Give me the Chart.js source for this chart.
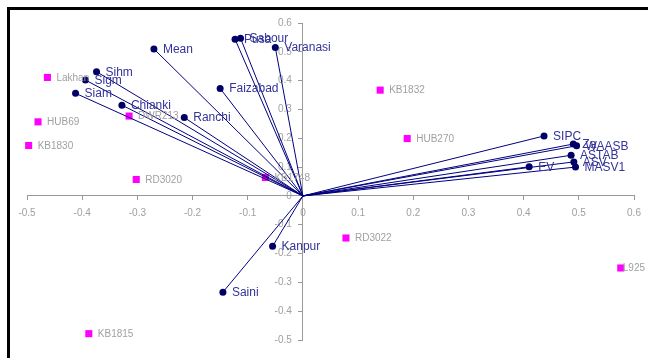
<!DOCTYPE html>
<html>
<head>
<meta charset="utf-8">
<script src="https://cdn.jsdelivr.net/npm/chart.js@4.4.1/dist/chart.umd.min.js"></script>
<style>
html, body { margin: 0; padding: 0; background: #fff; }
#wrap { position: relative; width: 648px; height: 358px; overflow: hidden; }
#frame { position: absolute; left: 7px; top: 7px; width: 700px; height: 400px; border-left: 3px solid #000; border-top: 3px solid #000; pointer-events: none; }
canvas { position: absolute; left: 0; top: 0; }
</style>
</head>
<body>
<div id="wrap">
  <canvas id="chart" width="648" height="358"></canvas>
  <div id="frame"></div>
</div>
<script>
"use strict";
// environment / stability vectors (drawn from origin)
const envNames = ["Mean", "Sihm", "Sigm", "Siam", "Chianki", "Ranchi", "Faizabad", "Pusa", "Sabour", "Varanasi",
    "Kanpur", "Saini", "SIPC", "Za", "WAASB", "ASTAB", "ASV", "MASV1", "EV"];
const envX = [-0.270, -0.374, -0.394, -0.412, -0.328, -0.215, -0.150, -0.123, -0.113, -0.050,
    -0.055, -0.145, 0.437, 0.490, 0.496, 0.486, 0.491, 0.494, 0.410];
const envY = [0.510, 0.431, 0.402, 0.356, 0.315, 0.272, 0.373, 0.544, 0.547, 0.515,
    -0.175, -0.334, 0.208, 0.180, 0.174, 0.141, 0.118, 0.100, 0.101];

// genotypes
const genoNames = ["Lakhan", "HUB69", "KB1830", "DWR213", "RD3020", "KB1748", "KB1832", "HUB270", "RD3022", "L925", "KB1815"];
const genoX = [-0.463, -0.480, -0.497, -0.315, -0.302, -0.068, 0.140, 0.189, 0.078, 0.576, -0.388];
const genoY = [0.411, 0.257, 0.175, 0.277, 0.057, 0.064, 0.367, 0.199, -0.146, -0.250, -0.478];

const axisMin = -0.5;
const axisMax = 0.6;
const axisStep = 0.1;

const tickColor = "#a0a0a0";
const axisColor = "#999999";
const tickFont = { family: "'Liberation Sans', Arial", size: 10 };

const datasets = [];
envNames.forEach((name, i) => {
    datasets.push({
        label: name,
        data: [{x: 0, y: 0}, {x: envX[i], y: envY[i]}],
        showLine: true,
        borderColor: "#000080",
        borderWidth: 1,
        pointRadius: [0, 3.5],
        pointBackgroundColor: "#000066",
        pointBorderWidth: 0,
        pointLabels: [null, name],
        labelColor: "#333399",
        labelFont: "12px 'Liberation Sans', Arial",
        order: 1,
        clip: false
    });
});
datasets.push({
    label: "Genotypes",
    data: genoX.map((x, i) => ({x: x, y: genoY[i]})),
    showLine: false,
    pointStyle: "rect",
    pointRadius: 5,
    pointBackgroundColor: "#ff00ff",
    pointBorderWidth: 0,
    pointLabels: genoNames,
    labelColor: "#a0a0a0",
    labelFont: "10px 'Liberation Sans', Arial",
    order: 2,
    clip: false
});

const pointLabelPlugin = {
    id: "pointLabels",
    afterDatasetsDraw(chart) {
        const ctx = chart.ctx;
        ctx.save();
        ctx.textBaseline = "middle";
        ctx.textAlign = "left";
        // genotype labels first so vector labels sit on top
        const order = chart.data.datasets.map((d, i) => i).reverse();
        order.forEach(di => {
            const ds = chart.data.datasets[di];
            const meta = chart.getDatasetMeta(di);
            ctx.font = ds.labelFont;
            ctx.fillStyle = ds.labelColor;
            ds.pointLabels.forEach((text, pi) => {
                if(!text) return;
                const el = meta.data[pi];
                const w = ctx.measureText(text).width;
                let lx = el.x + 9;
                if(lx + w > chart.width - 3) lx = chart.width - 3 - w;
                ctx.fillText(text, lx, el.y + 0.5);
            });
        });
        ctx.restore();
    }
};

function axisOptions(pos, labelFmt, pad) {
    return {
        type: "linear",
        min: axisMin,
        max: axisMax,
        position: pos,
        grid: {
            display: true,
            drawOnChartArea: false,
            drawTicks: true,
            tickLength: 4,
            color: axisColor
        },
        border: { display: true, color: axisColor, width: 1 },
        ticks: {
            stepSize: axisStep,
            color: tickColor,
            font: tickFont,
            padding: pad,
            callback: labelFmt
        }
    };
}

const fmt = v => String(Math.round(v * 10) / 10);

new Chart(document.getElementById("chart"), {
    type: "scatter",
    data: { datasets: datasets },
    options: {
        responsive: false,
        animation: false,
        layout: { padding: { left: 27, right: 14, top: 23, bottom: 18 } },
        plugins: { legend: { display: false }, tooltip: { enabled: false } },
        scales: {
            x: axisOptions({y: 0}, fmt, 7),
            // centred y axis puts labels flush on the axis; trailing spaces push them left
            y: axisOptions({x: 0}, v => fmt(v) + "    ", 4)
        }
    },
    plugins: [pointLabelPlugin]
});
</script>
</body>
</html>
